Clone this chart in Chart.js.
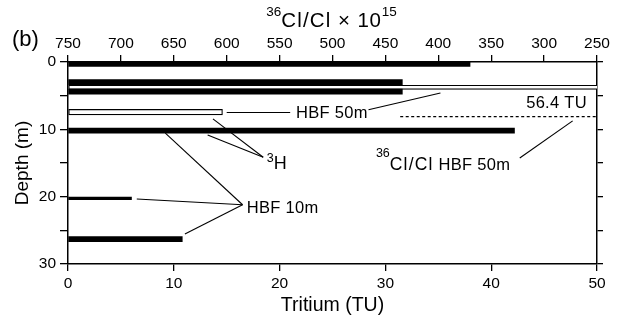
<!DOCTYPE html>
<html>
<head>
<meta charset="utf-8">
<script src="https://cdn.jsdelivr.net/npm/chart.js@4.4.1/dist/chart.umd.min.js"></script>
<style>
  html, body { margin: 0; padding: 0; background: #fff; }
  #wrap { width: 619px; height: 320px; }
</style>
</head>
<body>
<div id="wrap"><canvas id="c" width="619" height="320"></canvas></div>
<script>
// Tritium (TU) against depth (m)
const solidDepths   = [0.3, 3.0, 4.4, 10.2, 26.3];
const solidTritium  = [38, 31.6, 31.6, 42.2, 10.8];
const thinDepths    = [20.25];
const thinTritium   = [6];
const openDepths    = [3.76, 7.45];       // HBF 50m
const openTritium   = [56.4, 14.6];
// 36Cl/Cl x 10^15, HBF 50m
const chlorineDepths = [8.1, 8.1];
const chlorineRatio  = [436, 250];

// Axis ticks
const tritiumTicks = [0, 10, 20, 30, 40, 50];
const ratioTicks   = [750, 700, 650, 600, 550, 500, 450, 400, 350, 300, 250];
const depthTicks   = [0, 5, 10, 15, 20, 25, 30];
const depthLabels  = ['0', '', '10', '', '20', '', '30'];

const FONT = "'Liberation Sans', Arial, Helvetica, sans-serif";
Chart.defaults.font.family = FONT;
Chart.defaults.color = '#000';

const pts = (xs, ys) => ys.map((d, i) => ({ x: xs[i], y: d }));

// Leader lines, in (TU, depth) units
const leaders = [
  [[15.0, 7.5], [21.0, 7.5]],
  [[28.4, 7.1], [35.2, 4.6]],
  [[18.45, 14.15], [13.2, 10.85]],
  [[18.45, 14.15], [13.7, 8.45]],
  [[16.5, 21.2], [9.2, 10.55]],
  [[16.5, 21.2], [6.5, 20.35]],
  [[16.5, 21.2], [11.05, 25.55]],
  [[42.7, 14.25], [47.7, 8.75]]
];

// Annotation texts: runs of [text, size, baseline shift, letter spacing]
const notes = [
  { x: 21.55, y: 8.3,  align: 'left',  runs: [['HBF 50m', 16.5, 0, 0.3]] },
  { x: 49.05, y: 6.76, align: 'right', runs: [['56.4 TU', 16.5, 0, 0.3]] },
  { x: 18.78, y: 15.9, align: 'left',  runs: [['3', 12.5, -7, 0], ['H', 18, 0, 0]] },
  { x: 16.9,  y: 22.4, align: 'left',  runs: [['HBF 10m', 16.5, 0, 0.3]] },
  { x: 29.1,  y: 16.05, align: 'left', runs: [['36', 12.5, -13.5, 0], ['Cl/Cl', 17.5, 0, 1.2], [' HBF 50m', 16.5, 0, 0.3]] }
];

function drawRuns(ctx, x, y, runs, align) {
  const widths = runs.map(r => {
    ctx.font = r[1] + 'px ' + FONT;
    ctx.letterSpacing = (r[3] || 0) + 'px';
    return ctx.measureText(r[0]).width;
  });
  const total = widths.reduce((a, b) => a + b, 0);
  let cx = align === 'right' ? x - total : align === 'center' ? x - total / 2 : x;
  ctx.textAlign = 'left';
  ctx.textBaseline = 'alphabetic';
  runs.forEach((r, i) => {
    ctx.font = r[1] + 'px ' + FONT;
    ctx.letterSpacing = (r[3] || 0) + 'px';
    ctx.fillText(r[0], cx, y + r[2]);
    cx += widths[i];
  });
  ctx.letterSpacing = '0px';
}

const annotate = {
  id: 'annotate',
  afterDraw(chart) {
    const { ctx, chartArea, scales } = chart;
    const sx = scales.x, sy = scales.y;
    ctx.save();
    ctx.fillStyle = '#000';
    ctx.strokeStyle = '#000';
    ctx.lineWidth = 1.1;
    leaders.forEach(([a, b]) => {
      ctx.beginPath();
      ctx.moveTo(sx.getPixelForValue(a[0]), sy.getPixelForValue(a[1]));
      ctx.lineTo(sx.getPixelForValue(b[0]), sy.getPixelForValue(b[1]));
      ctx.stroke();
    });
    notes.forEach(n => drawRuns(ctx, sx.getPixelForValue(n.x), sy.getPixelForValue(n.y), n.runs, n.align));

    const midX = (chartArea.left + chartArea.right) / 2;
    // Axis titles
    drawRuns(ctx, midX - 1, 27, [['36', 13.5, -11, 0], ['Cl/Cl', 20.5, 0, 1.2], [' \u00d7 10', 20.5, 0, 0.8], ['15', 13.5, -11, 0]], 'center');
    drawRuns(ctx, midX, chartArea.bottom + 47, [['Tritium (TU)', 19.5, 0, 0]], 'center');
    ctx.save();
    ctx.translate(28, (chartArea.top + chartArea.bottom) / 2);
    ctx.rotate(-Math.PI / 2);
    drawRuns(ctx, 0, 0, [['Depth (m)', 19, 0, 0]], 'center');
    ctx.restore();
    drawRuns(ctx, 12, 46, [['(b)', 22, 0, 0]], 'left');
    ctx.restore();
  }
};

const grid = { drawOnChartArea: false, drawTicks: true, tickLength: 7, color: '#000', lineWidth: 1.3 };
const border = { display: true, color: '#000', width: 1.5 };
const tickFont = { size: 15.5 };

new Chart(document.getElementById('c'), {
  type: 'bar',
  data: {
    datasets: [
      { data: pts(solidTritium, solidDepths), backgroundColor: '#000', borderWidth: 0,
        barThickness: 5, grouped: false },
      { data: pts(thinTritium, thinDepths), backgroundColor: '#000', borderWidth: 0,
        barThickness: 2.4, grouped: false },
      { data: pts(openTritium.slice(0, 1), openDepths.slice(0, 1)), backgroundColor: '#fff',
        borderColor: '#000', borderWidth: 1.2, borderSkipped: false, barThickness: 4.2, grouped: false },
      { data: pts(openTritium.slice(1), openDepths.slice(1)), backgroundColor: '#fff',
        borderColor: '#000', borderWidth: 1.2, borderSkipped: false, barThickness: 5.6, grouped: false },
      { type: 'line', xAxisID: 'x2', yAxisID: 'y', data: pts(chlorineRatio, chlorineDepths),
        borderColor: '#000', borderWidth: 1.3, borderDash: [3, 2.5], pointRadius: 0, fill: false }
    ]
  },
  options: {
    indexAxis: 'y',
    responsive: false,
    animation: false,
    events: [],
    layout: { padding: 0 },
    plugins: { legend: { display: false }, tooltip: { enabled: false } },
    scales: {
      x: {
        type: 'linear', position: 'bottom', min: 0, max: 50, offset: false,
        grid, border,
        afterBuildTicks: s => { s.ticks = tritiumTicks.map(v => ({ value: v })); },
        ticks: { font: tickFont, color: '#000', padding: 3, autoSkip: false, maxRotation: 0 },
        afterFit: s => { s.height = 56; }
      },
      x2: {
        type: 'linear', position: 'top', min: 250, max: 750, reverse: true, offset: false,
        grid, border,
        afterBuildTicks: s => { s.ticks = ratioTicks.map(v => ({ value: v })); },
        ticks: { font: tickFont, color: '#000', padding: 2, autoSkip: false, maxRotation: 0 },
        afterFit: s => { s.height = 62; }
      },
      y: {
        type: 'linear', position: 'left', min: 0, max: 30, reverse: true, offset: false,
        grid: { ...grid, offset: false, tickLength: 8 }, border,
        afterBuildTicks: s => { s.ticks = depthTicks.map(v => ({ value: v })); },
        ticks: { font: tickFont, color: '#000', padding: 4, autoSkip: false,
                 callback: (v, i) => depthLabels[i] },
        afterFit: s => { s.width = 68; }
      },
      y2: {
        type: 'linear', position: 'right', min: 0, max: 30, reverse: true, offset: false,
        grid: { ...grid, offset: false, tickLength: 6 }, border,
        afterBuildTicks: s => { s.ticks = depthTicks.map(v => ({ value: v })); },
        ticks: { display: false },
        afterFit: s => { s.width = 22; }
      }
    }
  },
  plugins: [annotate]
});
</script>
</body>
</html>
